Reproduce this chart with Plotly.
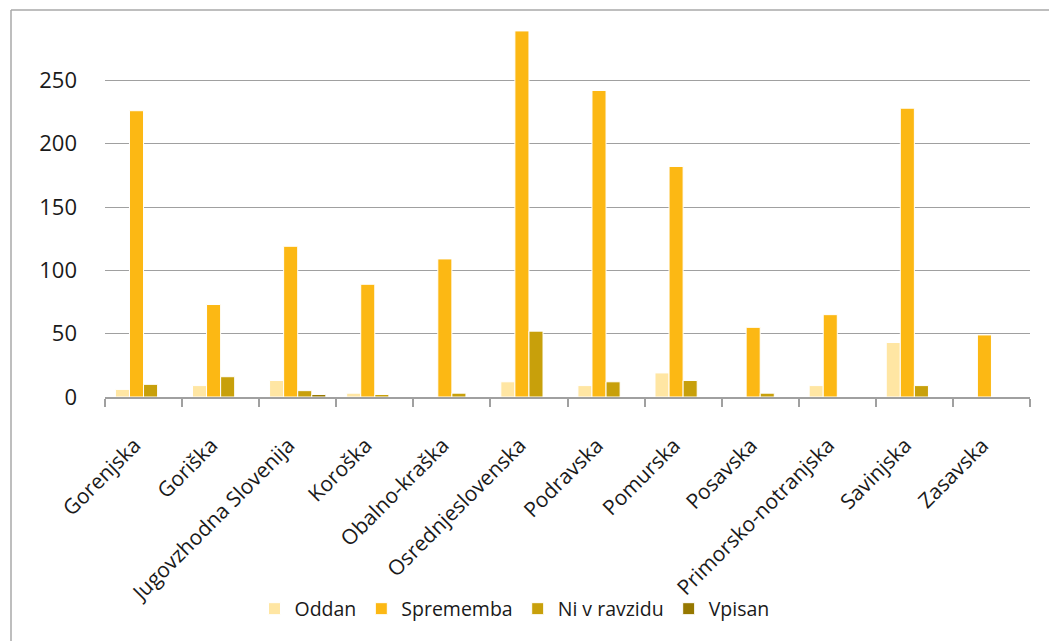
import plotly.graph_objects as go

categories = ["Gorenjska", "Goriška", "Jugovzhodna Slovenija", "Koroška", "Obalno-kraška",
              "Osrednjeslovenska", "Podravska", "Pomurska", "Posavska",
              "Primorsko-notranjska", "Savinjska", "Zasavska"]
oddan = [6, 9, 13, 3, 0, 12, 9, 19, 0, 9, 43, 0]
sprememba = [226, 73, 119, 89, 109, 289, 242, 182, 55, 65, 228, 49]
ni_v_razvidu = [10, 16, 5, 2, 3, 52, 12, 13, 3, 0, 9, 0]
vpisan = [0, 0, 2, 0, 0, 0, 0, 0, 0, 0, 0, 0]

series = [
    ("Oddan", oddan, "#FFE6A3"),
    ("Sprememba", sprememba, "#FCB814"),
    ("Ni v ravzidu", ni_v_razvidu, "#C8A00B"),
    ("Vpisan", vpisan, "#967800"),
]

FONT = "Open Sans"
fig = go.Figure()
for name, vals, col in series:
    fig.add_trace(go.Bar(x=categories, y=vals, name=name, marker_color=col,
                         marker_line_color="white", marker_line_width=1))

OFF = 8  # page body margin
W, H = 1057 - OFF, 641 - OFF
L, R, T, B = 105 - OFF, 1030 - OFF, 17 - OFF, 397 - OFF
pw, ph = R - L, B - T

fig.update_layout(
    width=W, height=H,
    margin=dict(l=L, r=W - R, t=T, b=H - B, pad=0, autoexpand=False),
    paper_bgcolor="white", plot_bgcolor="white",
    barmode="group", bargap=0.27, bargroupgap=0,
    font=dict(family=FONT, size=22, color="#1a1a1a"),
    legend=dict(orientation="h", x=0.4427, xanchor="center",
                y=(B - (609 - OFF)) / ph, yanchor="middle",
                bgcolor="rgba(0,0,0,0)",
                font=dict(family=FONT, size=19.5), itemwidth=30,
                traceorder="normal"),
    xaxis=dict(type="category", showgrid=False, showline=True, linecolor="#a0a0a0",
               linewidth=1.5, ticks="outside", tickson="boundaries", ticklen=8,
               tickcolor="#a0a0a0", tickwidth=1.5, tickangle=-45, automargin=False,
               ticklabelstandoff=26, ticklabelshift=-9,
               tickfont=dict(family=FONT, size=21)),
    yaxis=dict(range=[0, 300], tickvals=[0, 50, 100, 150, 200, 250], showgrid=True,
               gridcolor="#a0a0a0", gridwidth=1.2, zeroline=False, showline=False,
               ticks="", ticklabelstandoff=27, automargin=False,
               tickfont=dict(family=FONT, size=22)),
    shapes=[
        dict(type="line", xref="paper", yref="paper",
             x0=(11 - OFF - L) / pw, x1=(11 - OFF - L) / pw,
             y0=(B - (10 - OFF)) / ph, y1=(B - (645 - OFF)) / ph,
             line=dict(color="#a8a8a8", width=1.5)),
        dict(type="line", xref="paper", yref="paper",
             x0=(11 - OFF - L) / pw, x1=(1060 - OFF - L) / pw,
             y0=(B - (10 - OFF)) / ph, y1=(B - (10 - OFF)) / ph,
             line=dict(color="#a8a8a8", width=1.5)),
    ],
)

fig.write_html("out.html")
